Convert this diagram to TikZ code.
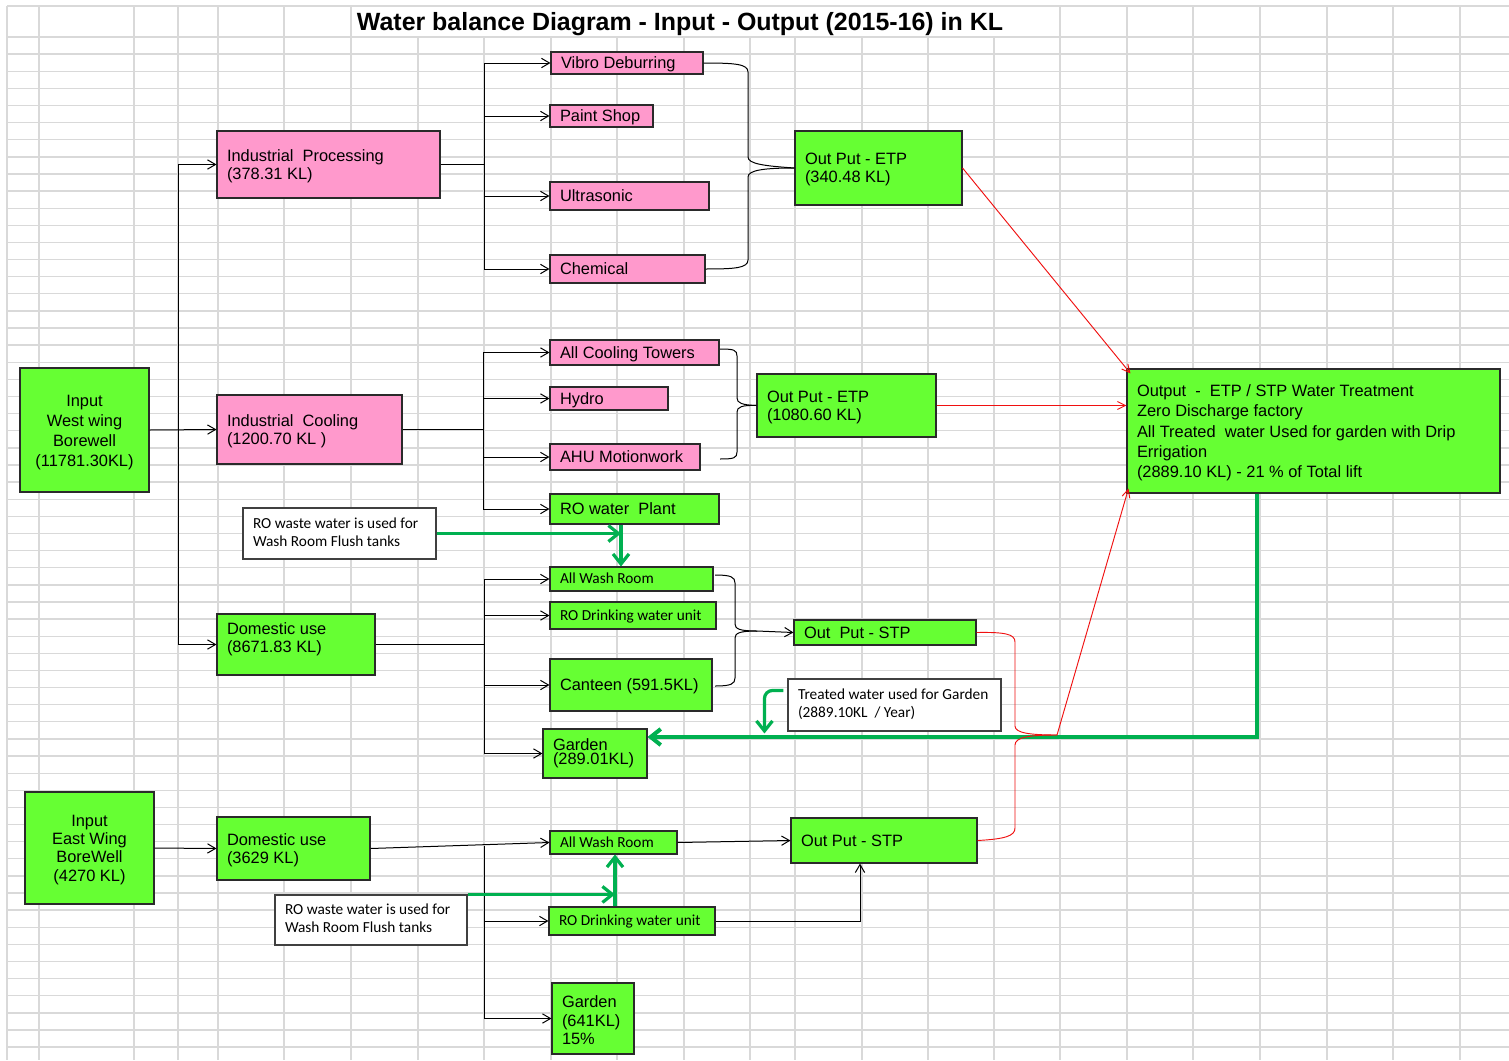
\documentclass[tikz,border=0pt]{standalone}
\usepackage{fontspec}
\setmainfont{Liberation Sans}
\newfontfamily\arialf{Liberation Sans}
\newfontfamily\calf{Carlito}
\usetikzlibrary{arrows.meta,calc}
\definecolor{pinkc}{HTML}{FF99CC}
\definecolor{greenc}{HTML}{66FF33}
\definecolor{glc}{HTML}{00B050}
\definecolor{redc}{HTML}{F01010}
\definecolor{gridc}{HTML}{D9D9D9}
\definecolor{boxc}{HTML}{2A2A2A}
\newsavebox\bxbox
\def\bxlift{0pt}
\tikzset{
  txtlift/.store in=\bxlift,
  gridl/.style={draw=gridc, line width=1pt},
  bx/.style={draw=boxc, line width=0.8pt, inner xsep=7.5pt, inner ysep=0pt, txtlift=-1.5pt,
             font=\arialf\fontsize{12.3}{13.5}\selectfont},
  pinkb/.style={bx, fill=pinkc},
  greenb/.style={bx, fill=greenc},
  noteb/.style={bx, fill=white, draw=black!75, txtlift=0pt, font=\calf\fontsize{11.5}{13.5}\selectfont},
  smallg/.style={greenb, txtlift=-1pt, font=\calf\fontsize{11.5}{13.5}\selectfont},
  conn/.style={draw=black, line width=0.75pt},
  arr/.style={conn, -{Straight Barb[length=6pt,width=7pt]}},
  redl/.style={draw=redc, line width=0.7pt},
  redarr/.style={redl, -{Straight Barb[length=6pt,width=6pt]}},
  garr/.style={draw=glc, line width=2.4pt, -{Straight Barb[length=7.5pt,width=12pt]}},
}
% name, style, x1, y1, x2, y2, alignment (l/c), text
\newcommand\bxn[8]{%
  \pgfmathsetmacro\bxw{(#5-#3)*0.75-15}%
  \pgfmathsetmacro\bxh{(#6-#4)*0.75}%
  \node[#2, minimum height=\bxh pt] (#1) at ({(#3+#5)/2},{(#4+#6)/2})
    {\sbox\bxbox{\begin{tabular}{@{}#7@{}}#8\end{tabular}}%
     \makebox[\bxw pt][#7]{\raisebox{\bxlift}[\ht\bxbox][\dp\bxbox]{\usebox\bxbox}}};}
\begin{document}
\begin{tikzpicture}[x=0.75pt,y=-0.75pt]
\useasboundingbox (0,0) rectangle (1509,1060);
\fill[white] (0,0) rectangle (1509,1060);
% spreadsheet grid
\draw[gridl] (7,6) -- (1509,6);
\foreach \i in {0,...,59} \draw[gridl] (7,{37+17.12*\i}) -- (1509,{37+17.12*\i});
\foreach \x in {7,39,134,178,218,284,351,1060,1127,1193,1260,1327,1393,1460}
  \draw[gridl] (\x,6) -- (\x,1060);
\foreach \x in {418,484,551,617,684,750,795,862,928,994}
  \draw[gridl] (\x,37) -- (\x,1060);
% title
\node[font=\arialf\bfseries\fontsize{18.7}{22}\selectfont, anchor=base] (title) at (680,30)
  {Water balance Diagram - Input - Output (2015-16) in KL};
% boxes
\bxn{inW}{greenb, font=\arialf\fontsize{12.3}{15}\selectfont}{20}{368}{149}{492}{c}{Input\\West wing\\Borewell\\(11781.30KL)}
\bxn{inE}{greenb, font=\arialf\fontsize{12.3}{13.8}\selectfont}{25}{792}{154}{904}{c}{Input\\East Wing\\BoreWell\\(4270 KL)}
\bxn{ip}{pinkb}{217}{131}{440}{198}{l}{Industrial\ \ Processing\\(378.31 KL)}
\bxn{ic}{pinkb}{217}{395}{402}{464}{l}{Industrial\ \ Cooling\\(1200.70 KL )}
\bxn{dw}{greenb, txtlift=3.5pt}{217}{614}{375}{675}{l}{Domestic use\\(8671.83 KL)}
\bxn{de}{greenb}{217}{817}{370}{880}{l}{Domestic use\\(3629 KL)}
\bxn{vib}{pinkb}{551}{52}{703}{74}{l}{Vibro Deburring}
\bxn{ps}{pinkb}{550}{105}{653}{127}{l}{Paint Shop}
\bxn{us}{pinkb}{550}{182}{709}{210}{l}{Ultrasonic}
\bxn{ch}{pinkb}{550}{255}{705}{283}{l}{Chemical}
\bxn{etp1}{greenb}{795}{131}{962}{205}{l}{Out Put - ETP\\(340.48 KL)}
\bxn{act}{pinkb}{550}{340}{719}{365}{l}{All Cooling Towers}
\bxn{hy}{pinkb}{550}{387}{668}{410}{l}{Hydro}
\bxn{ahu}{pinkb}{550}{444}{700}{470}{l}{AHU Motionwork}
\bxn{rowp}{greenb}{550}{494}{719}{524}{l}{RO water\ \ Plant}
\bxn{etp2}{greenb}{757}{374}{936}{437}{l}{Out Put - ETP\\(1080.60 KL)}
\bxn{out}{greenb, font=\arialf\fontsize{12.3}{15.2}\selectfont}{1127}{369}{1500}{493}{l}{Output\ \ -\ \ ETP / STP Water Treatment\\Zero Discharge factory\\All Treated\ \ water Used for garden with Drip\\Errigation\\(2889.10 KL) - 21 \% of Total lift}
\bxn{n1}{noteb}{243}{508}{436}{559}{l}{RO waste water is used for\\Wash Room Flush tanks}
\bxn{wr1}{smallg}{550}{567}{713}{591}{l}{All Wash Room}
\bxn{rd1}{smallg}{550}{602}{716}{629}{l}{RO Drinking water unit}
\bxn{can}{greenb}{550}{659}{712}{711}{l}{Canteen (591.5KL)}
\bxn{g1}{greenb, txtlift=0pt}{543}{729}{647}{778}{l}{Garden\\[-3pt](289.01KL)}
\bxn{stp1}{greenb}{794}{620}{976}{645}{l}{Out\ \ Put - STP}
\bxn{n2}{noteb}{788}{679}{1001}{731}{l}{Treated water used for Garden\\(2889.10KL\ \ / Year)}
\bxn{wr2}{smallg}{550}{831}{677}{854}{l}{All Wash Room}
\bxn{rd2}{smallg}{549}{907}{715}{935}{l}{RO Drinking water unit}
\bxn{g2}{greenb, txtlift=-3pt, font=\arialf\fontsize{12.3}{13.9}\selectfont}{552}{983}{634}{1054}{l}{Garden\\(641KL)\\15\%}
\bxn{stp2}{greenb}{791}{818}{977}{863}{l}{Out Put - STP}
\bxn{n3}{noteb}{275}{895}{467}{945}{l}{RO waste water is used for\\Wash Room Flush tanks}
% west wing input distribution
\draw[arr] (inW.east) -- (ic.west);
\draw[arr] (178,0 |- ic.west) |- (ip.west);
\draw[arr] (178,0 |- ic.west) |- (dw.west);
% industrial processing
\draw[conn] (ip.east) -- (484,0 |- ip.east);
\foreach \t in {vib,ps,us,ch} \draw[arr] (484,0 |- ip.east) |- (\t.west);
% industrial cooling
\draw[conn] (ic.east) -- (483,0 |- ic.east);
\foreach \t in {act,hy,ahu,rowp} \draw[arr] (483,0 |- ic.east) |- (\t.west);
% domestic west
\draw[conn] (dw.east) -- (484,0 |- dw.east);
\foreach \t in {wr1,rd1,can,g1} \draw[arr] (484,0 |- dw.east) |- (\t.west);
% east wing
\draw[arr] (inE.east) -- (de.west);
\draw[arr] (de.east) -- (wr2.west);
\coordinate (dtr) at (484,846);
\draw[arr] (dtr) |- (rd2.west);
\draw[arr] (dtr) |- (g2.west);
\draw[arr] (wr2.east) -- (stp2.west);
\draw[arr] (rd2.east) -| (860,0 |- stp2.south);
% brace: industrial processing -> ETP
\draw[conn] (vib.east) .. controls (735,63) and (748,64) .. (748,72) -- (748,157)
  .. controls (748,164) and (765,166) .. (etp1.west);
\draw[conn] (ch.east) .. controls (735,269) and (748,268) .. (748,260) -- (748,177)
  .. controls (748,170) and (765,168) .. (etp1.west);
% brace: cooling -> ETP
\coordinate (b2t) at (720,349);
\coordinate (b2b) at (720,459);
\draw[conn] (b2t) .. controls (734,349) and (737,350) .. (737,356) -- (737,398)
  .. controls (737,403) and (742,405) .. (etp2.west);
\draw[conn] (b2b) .. controls (734,459) and (737,458) .. (737,452) -- (737,412)
  .. controls (737,407) and (742,405) .. (etp2.west);
% brace: domestic west -> STP
\coordinate (b3t) at (715,575);
\coordinate (b3b) at (715,686);
\coordinate (b3tip) at (757,631);
\draw[conn] (b3t) .. controls (731,575) and (735,577) .. (735,583) -- (735,624)
  .. controls (735,629) and (740,631) .. (b3tip);
\draw[conn] (b3b) .. controls (731,686) and (735,684) .. (735,678) -- (735,638)
  .. controls (735,633) and (740,631) .. (b3tip);
\draw[arr] (b3tip) -- (stp1.west);
% green flows
\draw[garr, line width=3pt] (1257,0 |- out.south) |- (g1.east |- 0,737);
\draw[garr, rounded corners=6pt] ($(n2.north west)+(-4,12)$) -| ($(n2.north west)+(-23,55)$);
\draw[garr] (n1.east) -- (621,0 |- n1.east);
\draw[garr] (621,0 |- rowp.south) -- (621,0 |- wr1.north);
\draw[garr] (n3.north east) -- (615,0 |- n3.north east);
\draw[garr] (615,0 |- rd2.north) -- (615,0 |- wr2.south);
% red flows to treatment
\coordinate (b4tip) at (1057,735);
\draw[redl] (stp1.east) .. controls (1005,632) and (1015,634) .. (1015,642) -- (1015,726)
  .. controls (1015,733) and (1030,735) .. (b4tip);
\draw[redl] (stp2.east) .. controls (1005,839) and (1015,836) .. (1015,828) -- (1015,745)
  .. controls (1015,737) and (1030,735) .. (b4tip);
\draw[redarr] (b4tip) -- ($(out.south west)+(2,-5)$);
\draw[redarr] (etp1.east) -- ($(out.north west)+(4,5)$);
\draw[redarr] (etp2.east) -- (out.west |- etp2.east);
\end{tikzpicture}
\end{document}
